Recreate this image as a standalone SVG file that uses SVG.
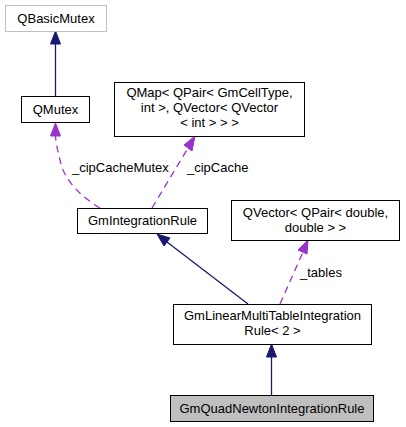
<svg xmlns="http://www.w3.org/2000/svg" width="406" height="427" viewBox="0 0 406 427">
<style>
text{font-family:"Liberation Sans",Arial,sans-serif;font-size:13px;fill:#000}
.c{text-anchor:middle}
.box{fill:#fff;stroke:#000;stroke-width:1}
.gray{fill:#fff;stroke:#bfbfbf;stroke-width:1}
.cur{fill:#bfbfbf;stroke:#000;stroke-width:1}
.inh{fill:none;stroke:#191970;stroke-width:1.3}
.use{fill:none;stroke:#9a32cd;stroke-width:1.3;stroke-dasharray:7,5}
.ha{fill:#191970;stroke:#191970}
.hu{fill:#9a32cd;stroke:#9a32cd}
</style>
<rect width="406" height="427" fill="#fff"/>
<g id="edges">
<path class="inh" d="M55.5,96 L55.5,44"/>
<polygon class="ha" points="55.5,31 50.5,44 60.5,44"/>
<path class="use" d="M100,208 C80,196 64,180 60,160 C58,152 56,144 55.5,136"/>
<polygon class="hu" points="55.5,123 50.5,136 60.5,136"/>
<path class="use" d="M152,208 L188,148"/>
<polygon class="hu" points="195,136 184,145 192,151"/>
<path class="inh" d="M248,304 L167,242"/>
<polygon class="ha" points="157,234 164,246 170,238"/>
<path class="use" d="M280,304 L303,252"/>
<polygon class="hu" points="308,240 298,250 307,254"/>
<path class="inh" d="M271.5,395 L271.5,357"/>
<polygon class="ha" points="271.5,344 266.5,357 276.5,357"/>
<text x="72" y="172">_cipCacheMutex</text>
<text x="187" y="172">_cipCache</text>
<text x="300" y="277">_tables</text>
</g>
<g id="QBasicMutex">
<rect class="gray" x="5.5" y="5.5" width="101" height="26"/>
<text class="c" x="56" y="23">QBasicMutex</text>
</g>
<g id="QMutex">
<rect class="box" x="21.5" y="96.5" width="68" height="26"/>
<text class="c" x="55.5" y="114">QMutex</text>
</g>
<g id="QMap">
<rect class="box" x="114.5" y="82.5" width="190" height="54"/>
<text class="c" x="209.5" y="97">QMap&lt; QPair&lt; GmCellType,</text>
<text class="c" x="209.5" y="112">int &gt;, QVector&lt; QVector</text>
<text class="c" x="209.5" y="127">&lt; int &gt; &gt; &gt;</text>
</g>
<g id="GmIntegrationRule">
<rect class="box" x="77.5" y="208.5" width="130" height="25"/>
<text class="c" x="142.5" y="225">GmIntegrationRule</text>
</g>
<g id="QVector">
<rect class="box" x="231.5" y="200.5" width="168" height="40"/>
<text class="c" x="315.5" y="217">QVector&lt; QPair&lt; double,</text>
<text class="c" x="315.5" y="232">double &gt; &gt;</text>
</g>
<g id="GmLinearMultiTableIntegrationRule">
<rect class="box" x="173.5" y="304.5" width="198" height="40"/>
<text class="c" x="272.5" y="320">GmLinearMultiTableIntegration</text>
<text class="c" x="272.5" y="335">Rule&lt; 2 &gt;</text>
</g>
<g id="GmQuadNewtonIntegrationRule">
<rect class="cur" x="170.5" y="395.5" width="203" height="26"/>
<text class="c" x="272" y="413">GmQuadNewtonIntegrationRule</text>
</g>
</svg>
